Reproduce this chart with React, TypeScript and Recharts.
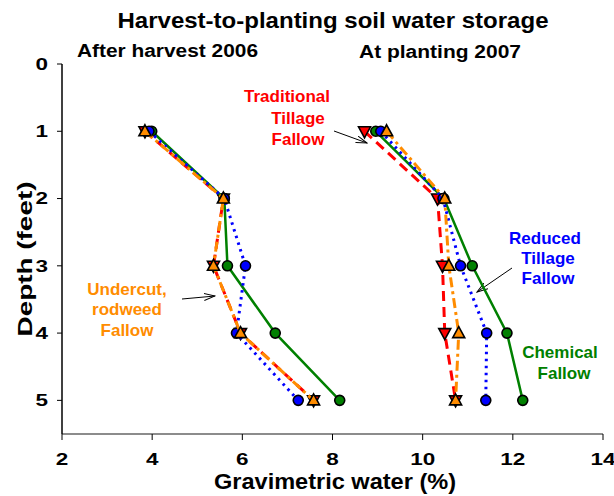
import { ScatterChart, Scatter, XAxis, YAxis, Customized } from "recharts";

// depth below surface (feet)
const depths = [1, 2, 3, 4, 5];

// gravimetric water (%) after harvest 2006
const traditional2006 = [3.84, 5.58, 5.36, 5.96, 7.58];
const reduced2006 = [3.93, 5.6, 6.07, 5.87, 7.24];
const chemical2006 = [3.99, 5.6, 5.67, 6.73, 8.16];
const undercut2006 = [3.84, 5.58, 5.36, 5.96, 7.58];

// gravimetric water (%) at planting 2007
const traditional2007 = [8.71, 10.33, 10.44, 10.49, 10.73];
const reduced2007 = [9.07, 10.45, 10.84, 11.42, 11.4];
const chemical2007 = [8.96, 10.47, 11.1, 11.87, 12.22];
const undercut2007 = [9.2, 10.49, 10.58, 10.8, 10.73];

const xTicks = [2, 4, 6, 8, 10, 12, 14];
const yTicks = [0, 1, 2, 3, 4, 5];

const FONT = "'Liberation Sans', Arial, sans-serif";

const toPoints = (vals: number[]) => vals.map((x, i) => ({ x, y: depths[i] }));

const circleShape = (fill: string) => (p: any) =>
    <circle cx={p.cx} cy={p.cy} r={5} fill={fill} stroke="#000" strokeWidth={1.6} />;

const triUp = (p: any) => (
    <polygon
        points={`${p.cx},${p.cy - 6.5} ${p.cx + 6},${p.cy + 4.5} ${p.cx - 6},${p.cy + 4.5}`}
        fill="#ff8c00"
        stroke="#000"
        strokeWidth={1.6}
    />
);

const triDown = (p: any) => (
    <polygon
        points={`${p.cx},${p.cy + 6.5} ${p.cx + 6},${p.cy - 4.5} ${p.cx - 6},${p.cy - 4.5}`}
        fill="#ff0000"
        stroke="#000"
        strokeWidth={1.6}
    />
);

const series = [
    { key: "trad", years: [traditional2006, traditional2007], color: "#ff0000", dash: "10 6", width: 3, shape: triDown },
    { key: "chem", years: [chemical2006, chemical2007], color: "#008000", dash: undefined, width: 2.5, shape: circleShape("#008000") },
    { key: "red", years: [reduced2006, reduced2007], color: "#0000ff", dash: "2.5 4.5", width: 3, shape: circleShape("#0000ff") },
    { key: "under", years: [undercut2006, undercut2007], color: "#ff8c00", dash: "10 4 3 4", width: 3, shape: triUp },
];

const tickText = (p: any, anchor: string, dy: string) => {
    const label = String(p.payload.value);
    return (
        <text
            x={p.x}
            y={p.y}
            dy={dy}
            textAnchor={anchor}
            fontFamily={FONT}
            fontWeight="bold"
            fontSize={16}
            fill="#000"
            textLength={label.length * 12.5}
            lengthAdjust="spacingAndGlyphs"
        >
            {label}
        </text>
    );
};

const renderXTick = (p: any) => tickText(p, "middle", "0.71em");
const renderYTick = (p: any) => tickText(p, "end", "0.36em");

const Overlay = () => (
    <g fontFamily={FONT} fontWeight="bold">
        <defs>
            <marker id="arrowHead" markerWidth="12" markerHeight="8" refX="11" refY="4" orient="auto" markerUnits="userSpaceOnUse">
                <path d="M0,0.5 L11,4 L0,7.5" fill="none" stroke="#000" strokeWidth={1} />
            </marker>
        </defs>
        <text x={333} y={28} textAnchor="middle" fontSize={22} textLength={431} lengthAdjust="spacingAndGlyphs">
            Harvest-to-planting soil water storage
        </text>
        <text x={77} y={57} fontSize={18} textLength={181} lengthAdjust="spacingAndGlyphs">
            After harvest 2006
        </text>
        <text x={359} y={58} fontSize={18} textLength={162} lengthAdjust="spacingAndGlyphs">
            At planting 2007
        </text>
        <text x={335} y={489} textAnchor="middle" fontSize={22} textLength={242} lengthAdjust="spacingAndGlyphs">
            Gravimetric water (%)
        </text>
        <text x={32} y={259} textAnchor="middle" fontSize={21} transform="rotate(-90, 32, 259)" textLength={155} lengthAdjust="spacingAndGlyphs">
            Depth (feet)
        </text>

        <g fill="#ff0000" fontSize={17} textAnchor="middle">
            <text x={287} y={102}>Traditional</text>
            <text x={298} y={124}>Tillage</text>
            <text x={298} y={145}>Fallow</text>
        </g>
        <g fill="#0000ff" fontSize={17} textAnchor="middle">
            <text x={545} y={244}>Reduced</text>
            <text x={548} y={264}>Tillage</text>
            <text x={548} y={284}>Fallow</text>
        </g>
        <g fill="#008000" fontSize={17} textAnchor="middle">
            <text x={560} y={358}>Chemical</text>
            <text x={564} y={379}>Fallow</text>
        </g>
        <g fill="#ff8c00" fontSize={17} textAnchor="middle">
            <text x={127} y={295}>Undercut,</text>
            <text x={127} y={315}>rodweed</text>
            <text x={127} y={336}>Fallow</text>
        </g>

        <line x1={334} y1={131} x2={367} y2={143} stroke="#000" strokeWidth={1} markerEnd="url(#arrowHead)" />
        <line x1={512} y1={268} x2={477} y2={292} stroke="#000" strokeWidth={1} markerEnd="url(#arrowHead)" />
        <line x1={182} y1={299} x2={215} y2={296} stroke="#000" strokeWidth={1} markerEnd="url(#arrowHead)" />
    </g>
);

export default function App() {
    return (
        <div style={{ position: "absolute", left: 0, top: 0, width: 614, height: 496, background: "#fff" }}>
            <ScatterChart width={614} height={496} margin={{ top: 64, right: 11, bottom: 0, left: 0 }}>
                <XAxis
                    type="number"
                    dataKey="x"
                    domain={[2, 14]}
                    ticks={xTicks}
                    allowDataOverflow
                    height={62}
                    tickSize={6}
                    tickMargin={14}
                    tick={renderXTick}
                    axisLine={{ stroke: "#666", strokeWidth: 1.5 }}
                    tickLine={{ stroke: "#000" }}
                />
                <XAxis xAxisId="top" type="number" orientation="top" domain={[2, 14]} height={0} tick={false} tickLine={false} axisLine={{ stroke: "#000", strokeWidth: 1.5 }} />
                <YAxis
                    type="number"
                    dataKey="y"
                    domain={[0, 5.5]}
                    ticks={yTicks}
                    reversed
                    allowDataOverflow
                    width={62}
                    tickSize={5}
                    tickMargin={9}
                    tick={renderYTick}
                    axisLine={{ stroke: "#000", strokeWidth: 1.5 }}
                    tickLine={{ stroke: "#000" }}
                />
                <YAxis yAxisId="right" type="number" orientation="right" domain={[0, 5.5]} width={0} tick={false} tickLine={false} axisLine={{ stroke: "#000", strokeWidth: 1.5 }} />
                {series.map((s) =>
                    s.years.map((vals, yi) => (
                        <Scatter
                            key={`${s.key}-${yi}`}
                            data={toPoints(vals)}
                            fill={s.color}
                            line={{ stroke: s.color, strokeWidth: s.width, strokeDasharray: s.dash }}
                            lineType="joint"
                            shape={s.shape}
                            isAnimationActive={false}
                        />
                    ))
                )}
                <Customized component={Overlay} />
            </ScatterChart>
        </div>
    );
}
